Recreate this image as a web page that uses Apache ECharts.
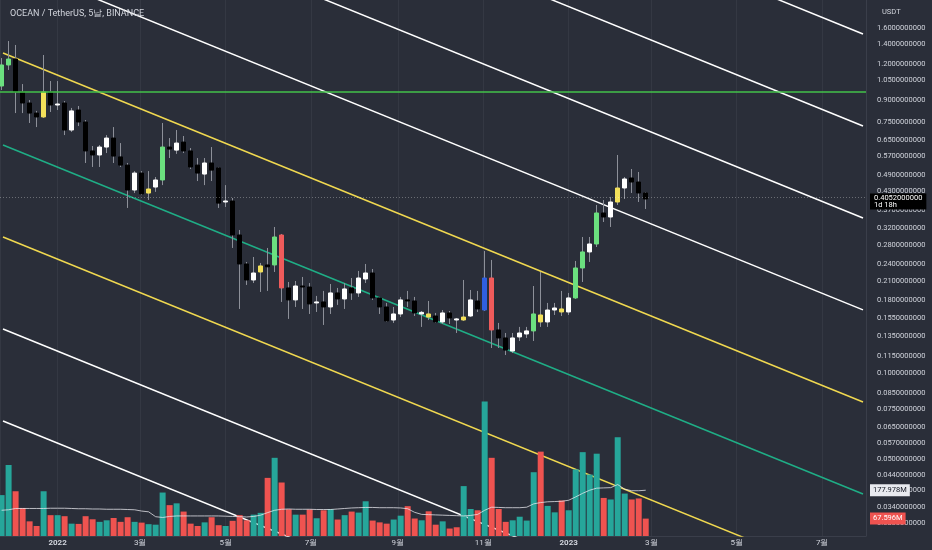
<!DOCTYPE html>
<html>
<head>
<meta charset="utf-8">
<script src="https://cdn.jsdelivr.net/npm/echarts@6/dist/echarts.min.js"></script>
<style>
  html, body { margin: 0; padding: 0; background: #2a2e39; }
  #chart { width: 932px; height: 550px; }
</style>
</head>
<body>
<div id="chart"></div>
<script>
// OCEAN/USDT, 5 day bars, Binance
const opens = [1.004,1.189,1.247,0.957,0.876,0.808,0.783,0.957,0.862,0.876,
  0.705,0.828,0.752,0.596,0.577,0.615,0.661,0.568,0.532,0.4355,
  0.499,0.425,0.446,0.472,0.615,0.600,0.640,0.596,0.532,0.495,
  0.541,0.520,0.3955,0.3987,0.3034,0.2404,0.2114,0.2254,0.2385,0.2385,
  0.3034,0.1983,0.1801,0.2014,0.1998,0.1758,0.1772,0.1702,0.1905,0.1815,
  0.1983,0.1905,0.2131,0.2236,0.1830,0.1702,0.1533,0.1609,0.1801,0.1786,
  0.1609,0.1570,0.1583,0.1509,0.1622,0.1533,0.1533,0.1583,0.1786,0.1661,
  0.2148,0.1415,0.1327,0.1195,0.1338,0.1370,0.1404,0.1509,0.1509,0.1661,
  0.1635,0.1635,0.1830,0.2328,0.2648,0.2823,0.3621,0.3506,0.3955,0.4426,
  0.4796,0.4644,0.4252];
const closes = [1.189,1.247,0.957,0.876,0.808,0.783,0.957,0.862,0.869,0.705,
  0.822,0.752,0.596,0.577,0.615,0.661,0.572,0.532,0.4355,0.499,
  0.422,0.439,0.472,0.615,0.605,0.635,0.596,0.524,0.499,0.541,
  0.511,0.392,0.3987,0.3034,0.2404,0.2114,0.2236,0.2366,0.2350,0.2986,
  0.1983,0.1801,0.2014,0.1998,0.1744,0.1772,0.1702,0.1905,0.1815,0.1967,
  0.1905,0.2148,0.2236,0.1830,0.1702,0.1521,0.1609,0.1801,0.1786,0.1622,
  0.1630,0.1609,0.1509,0.1622,0.1558,0.1546,0.1570,0.1801,0.1675,0.2148,
  0.1415,0.1327,0.1204,0.1327,0.1381,0.1404,0.1609,0.1596,0.1661,0.1688,
  0.1675,0.1830,0.2328,0.2648,0.2823,0.3621,0.3506,0.3955,0.4426,0.4758,
  0.4644,0.4252,0.4052];
const lows = [0.972,1.142,0.808,0.808,0.746,0.722,0.777,0.815,0.828,0.677,
  0.694,0.728,0.541,0.524,0.524,0.586,0.541,0.524,0.377,0.425,
  0.418,0.402,0.429,0.453,0.563,0.582,0.586,0.5155,0.468,0.453,
  0.468,0.377,0.380,0.2734,0.1675,0.2031,0.2063,0.1920,0.1936,0.2254,
  0.1772,0.1546,0.1702,0.1675,0.1609,0.1635,0.1473,0.1609,0.1730,0.1675,
  0.1801,0.1845,0.2063,0.1801,0.1609,0.1509,0.1497,0.1570,0.1702,0.1583,
  0.1450,0.1533,0.1497,0.1485,0.1485,0.1381,0.1521,0.1570,0.1635,0.1648,
  0.1224,0.1224,0.1157,0.1176,0.1295,0.1327,0.1295,0.1450,0.1450,0.1596,
  0.1583,0.1596,0.1815,0.2080,0.2443,0.2755,0.3368,0.3236,0.3861,0.4051,
  0.4252,0.3955,0.3739];
const highs = [1.257,1.441,1.396,1.020,0.897,0.822,1.288,1.045,1.045,0.890,
  0.842,0.855,0.764,0.620,0.625,0.677,0.722,0.635,0.541,0.507,
  0.507,0.507,0.4835,0.746,0.661,0.705,0.672,0.610,0.563,0.563,
  0.615,0.524,0.453,0.4084,0.3159,0.2443,0.2543,0.2424,0.2734,0.3236,
  0.3059,0.2080,0.2097,0.2166,0.2063,0.1860,0.1936,0.2047,0.1983,0.2063,
  0.2148,0.2273,0.2404,0.2309,0.1845,0.1758,0.1702,0.1845,0.1936,0.1845,
  0.1648,0.1786,0.1622,0.1661,0.1648,0.1558,0.2114,0.1951,0.1936,0.2669,
  0.2483,0.1497,0.1381,0.1381,0.1450,0.1450,0.2014,0.2254,0.1758,0.1758,
  0.1936,0.1905,0.2463,0.2986,0.2986,0.3861,0.4019,0.4118,0.5769,0.4835,
  0.5155,0.5033,0.4286];
// candle highlight class: w white, k black, g green, y yellow, b blue, r red
const candleClass = ['g','g','k','k','k','k','y','k','w','k',
  'w','k','k','k','w','w','k','k','k','w',
  'k','y','w','g','k','w','k','k','k','w',
  'k','k','w','k','k','k','w','y','k','g',
  'r','k','w','k','k','w','k','w','k','w',
  'k','w','w','k','k','k','w','w','k','k',
  'w','y','k','w','k','w','y','w','k','b',
  'r','k','k','w','w','w','g','y','w','w',
  'y','w','g','g','w','g','k','w','y','w',
  'k','k','k'];
// volume in millions, and its moving average
const volumes = [159,276,174,109,57,39,174,81,81,77,
  48,47,77,65,55,61,70,55,73,55,
  52,46,44,169,120,127,95,48,39,53,
  73,42,39,59,81,61,83,90,226,304,
  208,104,83,83,103,69,100,104,64,81,
  95,91,135,60,53,48,64,79,116,68,
  61,96,44,57,29,34,194,105,100,523,
  304,105,55,61,75,60,248,328,117,92,
  138,100,259,326,239,320,148,142,384,165,
  142,146,67.596];
const volumeMA = [100,102,107,107,107,107,107,108,108,108,
  107,106,106,105,105,104,104,104,103,102,
  97,94,75,72,76,78,78,78,78,78,
  78,78,77,76,75,74,76,81,91,100,
  104,105,104,104,104,103,103,103,105,107,
  109,110,111,111,110,110,110,109,106,92,
  84,83,82,81,80,79,78,80,84,100,
  112,111,110,110,110,112,125,130,133,134,
  135,139,152,166,178,186,187,188,200,182,
  176,176,177.978];
const priceTicks = [1.6,1.4,1.2,1.05,0.9,0.75,0.65,0.57,0.49,0.43,0.37,0.32,0.28,0.24,0.21,
  0.18,0.155,0.135,0.115,0.1,0.085,0.075,0.065,0.057,0.05,0.044,0.039,0.034,0.03];
// drawn parallel channel: price of each line at the two anchor dates
const channelDates = ['2021-11-23T00:00:00Z', '2023-07-30T04:20:00Z'];
const channelStart = [25.15, 12.01, 5.738, 2.741, 1.309, 0.6251, 0.2986, 0.1426, 0.06812];
const channelEnd = [1.525, 0.7281, 0.3478, 0.1662, 0.07935, 0.03789, 0.0181, 0.008645, 0.004129];
const channelKind = ['w','w','w','w','y','g','y','w','w'];
const resistance = 0.96;

const DAY = 86400000;
const firstBar = Date.UTC(2021, 10, 22);
const barTimes = opens.map((_, i) => firstBar + i * 5 * DAY);
const last = opens.length - 1;

const candleColors = { w: '#ffffff', k: '#000000', g: '#6be07f', y: '#f3e05a', b: '#2f5fe0', r: '#ef5b5b' };
const lineColors = { w: '#ffffff', y: '#f0d850', g: '#1fae86' };
const wickColor = '#8d9099';
const upVol = '#26a69a', downVol = '#ef5350';
const txt = '#d1d4dc';
const font = 'Roboto';

const wickData = barTimes.map((t, i) => [t, opens[i], closes[i], lows[i], highs[i]]);
const bodyData = barTimes.map((t, i) => {
  const c = candleColors[candleClass[i]];
  return {
    value: [t, opens[i], closes[i], Math.min(opens[i], closes[i]), Math.max(opens[i], closes[i])],
    itemStyle: { color: c, color0: c, borderColor: c, borderColor0: c }
  };
});
const volData = barTimes.map((t, i) => {
  const prev = i === 0 ? opens[0] : closes[i - 1];
  return { value: [t, volumes[i]], itemStyle: { color: closes[i] >= prev ? upVol : downVol } };
});
const maData = barTimes.map((t, i) => [t, volumeMA[i]]);

const channelSeries = channelStart.map((p, k) => ({
  type: 'line',
  xAxisIndex: 0, yAxisIndex: 0,
  data: [[Date.parse(channelDates[0]), p], [Date.parse(channelDates[1]), channelEnd[k]]],
  showSymbol: false, silent: true, z: 1,
  lineStyle: { color: lineColors[channelKind[k]], width: 1.5 }
}));

const chart = echarts.init(document.getElementById('chart'));
chart.setOption({
  backgroundColor: '#2a2e39',
  animation: false,
  textStyle: { fontFamily: font },
  title: [
    { text: 'OCEAN / TetherUS, 5날, BINANCE', left: 5, top: 4,
      textStyle: { color: txt, fontSize: 9, fontWeight: 'normal', fontFamily: font } },
    { text: 'USDT', left: 877, top: 3,
      textStyle: { color: txt, fontSize: 7.5, fontWeight: 'normal', fontFamily: font } }
  ],
  grid: { left: 0, right: 66, top: 0, bottom: 14 },
  xAxis: {
    type: 'time',
    min: Date.parse(channelDates[0]),
    max: Date.parse(channelDates[1]),
    splitNumber: 8,
    axisLine: { show: true, lineStyle: { color: '#3a3e4a' } },
    axisTick: { show: false },
    splitLine: { show: true, lineStyle: { color: 'rgba(255,255,255,0.05)' } },
    axisLabel: {
      margin: 3,
      showMinLabel: false, showMaxLabel: false,
      color: txt, fontSize: 8, fontFamily: font,
      formatter: v => {
        const d = new Date(v);
        return d.getUTCMonth() === 0 ? '{yr|' + d.getUTCFullYear() + '}' : (d.getUTCMonth() + 1) + '월';
      },
      rich: { yr: { fontWeight: 'bold', fontSize: 8, color: txt, fontFamily: font } }
    }
  },
  yAxis: [
    {
      type: 'log',
      position: 'right',
      min: 0.02704, max: 2.0035,
      axisLine: { show: true, lineStyle: { color: '#3a3e4a' } },
      axisTick: { show: false, customValues: priceTicks },
      splitLine: { show: false },
      axisLabel: {
        customValues: priceTicks,
        margin: 11,
        color: txt, fontSize: 7.5, fontFamily: font,
        formatter: v => Number(v).toFixed(10)
      }
    },
    {
      type: 'value',
      position: 'right',
      min: 0, max: 2084,
      axisLine: { show: false },
      axisTick: { show: false, customValues: [volumeMA[last], volumes[last]] },
      splitLine: { show: false },
      axisLabel: {
        customValues: [volumeMA[last], volumes[last]],
        margin: 4,
        fontSize: 7.5, fontFamily: font,
        formatter: v => Math.abs(v - volumes[last]) < 1e-6
          ? '{r|' + v.toFixed(3) + 'M}' : '{w|' + v.toFixed(3) + 'M}',
        rich: {
          r: { backgroundColor: '#ef5350', color: '#ffffff', padding: [2, 3], fontSize: 7.5, fontFamily: font },
          w: { backgroundColor: '#e8eaef', color: '#131722', padding: [2, 3], fontSize: 7.5, fontFamily: font }
        }
      }
    }
  ],
  series: [
    ...channelSeries,
    {
      type: 'bar', name: 'Volume',
      xAxisIndex: 0, yAxisIndex: 1,
      data: volData, barWidth: 6, z: 2, silent: true
    },
    {
      type: 'line', name: 'Volume MA',
      xAxisIndex: 0, yAxisIndex: 1,
      data: maData, showSymbol: false, z: 3, silent: true,
      lineStyle: { color: 'rgba(235,235,240,0.75)', width: 1 }
    },
    {
      type: 'candlestick', name: 'wicks',
      xAxisIndex: 0, yAxisIndex: 0,
      encode: { x: 0, y: [1, 2, 3, 4] },
      data: wickData, barWidth: 0.1, z: 4, silent: true,
      itemStyle: { color: wickColor, color0: wickColor, borderColor: wickColor, borderColor0: wickColor, borderWidth: 1 }
    },
    {
      type: 'candlestick', name: 'OCEANUSDT',
      xAxisIndex: 0, yAxisIndex: 0,
      encode: { x: 0, y: [1, 2, 3, 4] },
      data: bodyData, barWidth: 4, z: 5, silent: true,
      itemStyle: { borderWidth: 1 },
      markLine: {
        silent: true, symbol: 'none', z: 6,
        data: [
          { yAxis: resistance, lineStyle: { color: '#43c24a', width: 1.5, type: 'solid' }, label: { show: false } },
          {
            yAxis: closes[last],
            lineStyle: { color: 'rgba(255,255,255,0.3)', width: 1, type: [1, 2] },
            label: {
              show: true, position: 'end', distance: 4, offset: [0, 4],
              backgroundColor: '#000000', padding: [1, 4, 1, 4],
              formatter: () => '{a|' + closes[last].toFixed(10) + '}\n{b|1d 18h}',
              rich: {
                a: { color: '#ffffff', fontSize: 7.5, lineHeight: 7, fontFamily: font },
                b: { color: '#ffffff', fontSize: 7.5, lineHeight: 7, fontFamily: font }
              }
            }
          }
        ]
      }
    }
  ]
});
</script>
</body>
</html>
